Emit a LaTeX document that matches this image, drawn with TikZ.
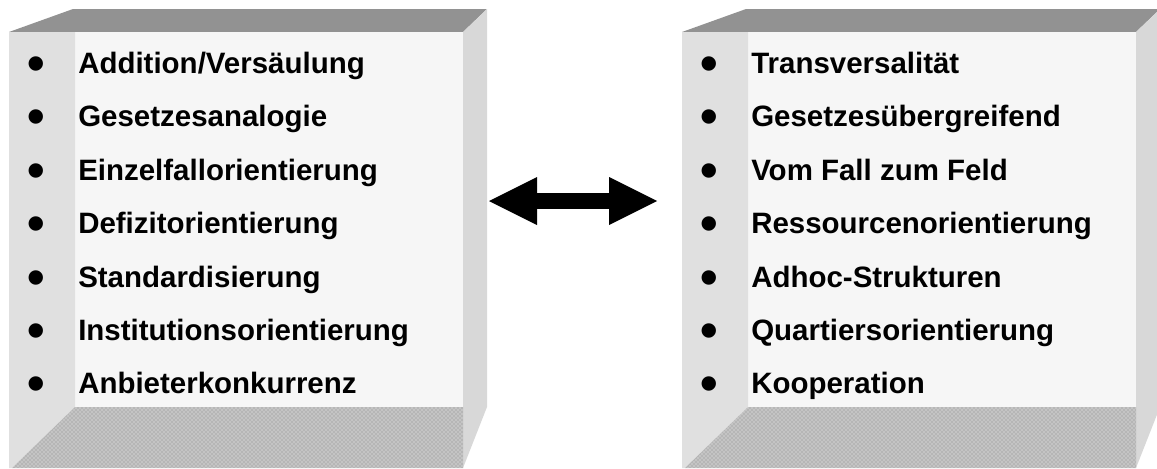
\documentclass[tikz,border=0pt]{standalone}
\usepackage{fontspec}
\setmainfont{Liberation Sans}
\usetikzlibrary{arrows.meta,patterns}
\definecolor{boxtop}{RGB}{146,146,146}
\definecolor{boxside}{RGB}{216,216,216}
\definecolor{boxface}{RGB}{246,246,246}
\definecolor{bevelleft}{RGB}{224,224,224}
\definecolor{bevelbottom}{RGB}{182,182,182}

\begin{document}
\begin{tikzpicture}[x=0.75pt,y=-0.75pt,
  item/.style={anchor=base west, inner sep=0pt, font=\fontsize{22.1}{26}\selectfont\bfseries}]
  \useasboundingbox (0,0) rectangle (1157,468);
  \clip (0,0) rectangle (1157,468);
  % Left box
  \fill[boxtop] (9,32) -- (73,9) -- (487,9) -- (463,32) -- cycle;
  \fill[boxside] (463,32) -- (487,9) -- (487,407) -- (463,468) -- cycle;
  \fill[boxface] (75,32) rectangle (463,407);
  \fill[bevelleft] (9,32) -- (75,32) -- (75,407) -- (12,468) -- (9,468) -- cycle;
  \fill[bevelbottom] (75,407) -- (463,407) -- (463,468) -- (12,468) -- cycle;
  \fill[pattern=crosshatch dots, pattern color=white!85!bevelbottom]
    (75,407) -- (463,407) -- (463,468) -- (12,468) -- cycle;
  \node[item] (old1) at (27,73) {\makebox[38.25pt][l]{\raisebox{-5.5pt}{\scalebox{1.7}{•}}}Addition/Versäulung};
  \node[item] (old2) at (27,126) {\makebox[38.25pt][l]{\raisebox{-5.5pt}{\scalebox{1.7}{•}}}Gesetzesanalogie};
  \node[item] (old3) at (27,180) {\makebox[38.25pt][l]{\raisebox{-5.5pt}{\scalebox{1.7}{•}}}Einzelfallorientierung};
  \node[item] (old4) at (27,233) {\makebox[38.25pt][l]{\raisebox{-5.5pt}{\scalebox{1.7}{•}}}Defizitorientierung};
  \node[item] (old5) at (27,287) {\makebox[38.25pt][l]{\raisebox{-5.5pt}{\scalebox{1.7}{•}}}Standardisierung};
  \node[item] (old6) at (27,340) {\makebox[38.25pt][l]{\raisebox{-5.5pt}{\scalebox{1.7}{•}}}Institutionsorientierung};
  \node[item] (old7) at (27,393) {\makebox[38.25pt][l]{\raisebox{-5.5pt}{\scalebox{1.7}{•}}}Anbieterkonkurrenz};
  % Right box
  \fill[boxtop] (682,32) -- (746,9) -- (1160,9) -- (1136,32) -- cycle;
  \fill[boxside] (1136,32) -- (1160,9) -- (1160,407) -- (1136,468) -- cycle;
  \fill[boxface] (748,32) rectangle (1136,407);
  \fill[bevelleft] (682,32) -- (748,32) -- (748,407) -- (685,468) -- (682,468) -- cycle;
  \fill[bevelbottom] (748,407) -- (1136,407) -- (1136,468) -- (685,468) -- cycle;
  \fill[pattern=crosshatch dots, pattern color=white!85!bevelbottom]
    (748,407) -- (1136,407) -- (1136,468) -- (685,468) -- cycle;
  \node[item] (new1) at (700,73) {\makebox[38.25pt][l]{\raisebox{-5.5pt}{\scalebox{1.7}{•}}}Transversalität};
  \node[item] (new2) at (700,126) {\makebox[38.25pt][l]{\raisebox{-5.5pt}{\scalebox{1.7}{•}}}Gesetzesübergreifend};
  \node[item] (new3) at (700,180) {\makebox[38.25pt][l]{\raisebox{-5.5pt}{\scalebox{1.7}{•}}}Vom Fall zum Feld};
  \node[item] (new4) at (700,233) {\makebox[38.25pt][l]{\raisebox{-5.5pt}{\scalebox{1.7}{•}}}Ressourcenorientierung};
  \node[item] (new5) at (700,287) {\makebox[38.25pt][l]{\raisebox{-5.5pt}{\scalebox{1.7}{•}}}Adhoc-Strukturen};
  \node[item] (new6) at (700,340) {\makebox[38.25pt][l]{\raisebox{-5.5pt}{\scalebox{1.7}{•}}}Quartiersorientierung};
  \node[item] (new7) at (700,393) {\makebox[38.25pt][l]{\raisebox{-5.5pt}{\scalebox{1.7}{•}}}Kooperation};
  % Double arrow
  \coordinate (oldend) at (489,201);
  \coordinate (newend) at (657,201);
  \draw[line width=12pt,
        {Triangle[length=36pt,width=36pt,line width=0pt]}-{Triangle[length=36pt,width=36pt,line width=0pt]}]
        (oldend) -- (newend);
\end{tikzpicture}
\end{document}
